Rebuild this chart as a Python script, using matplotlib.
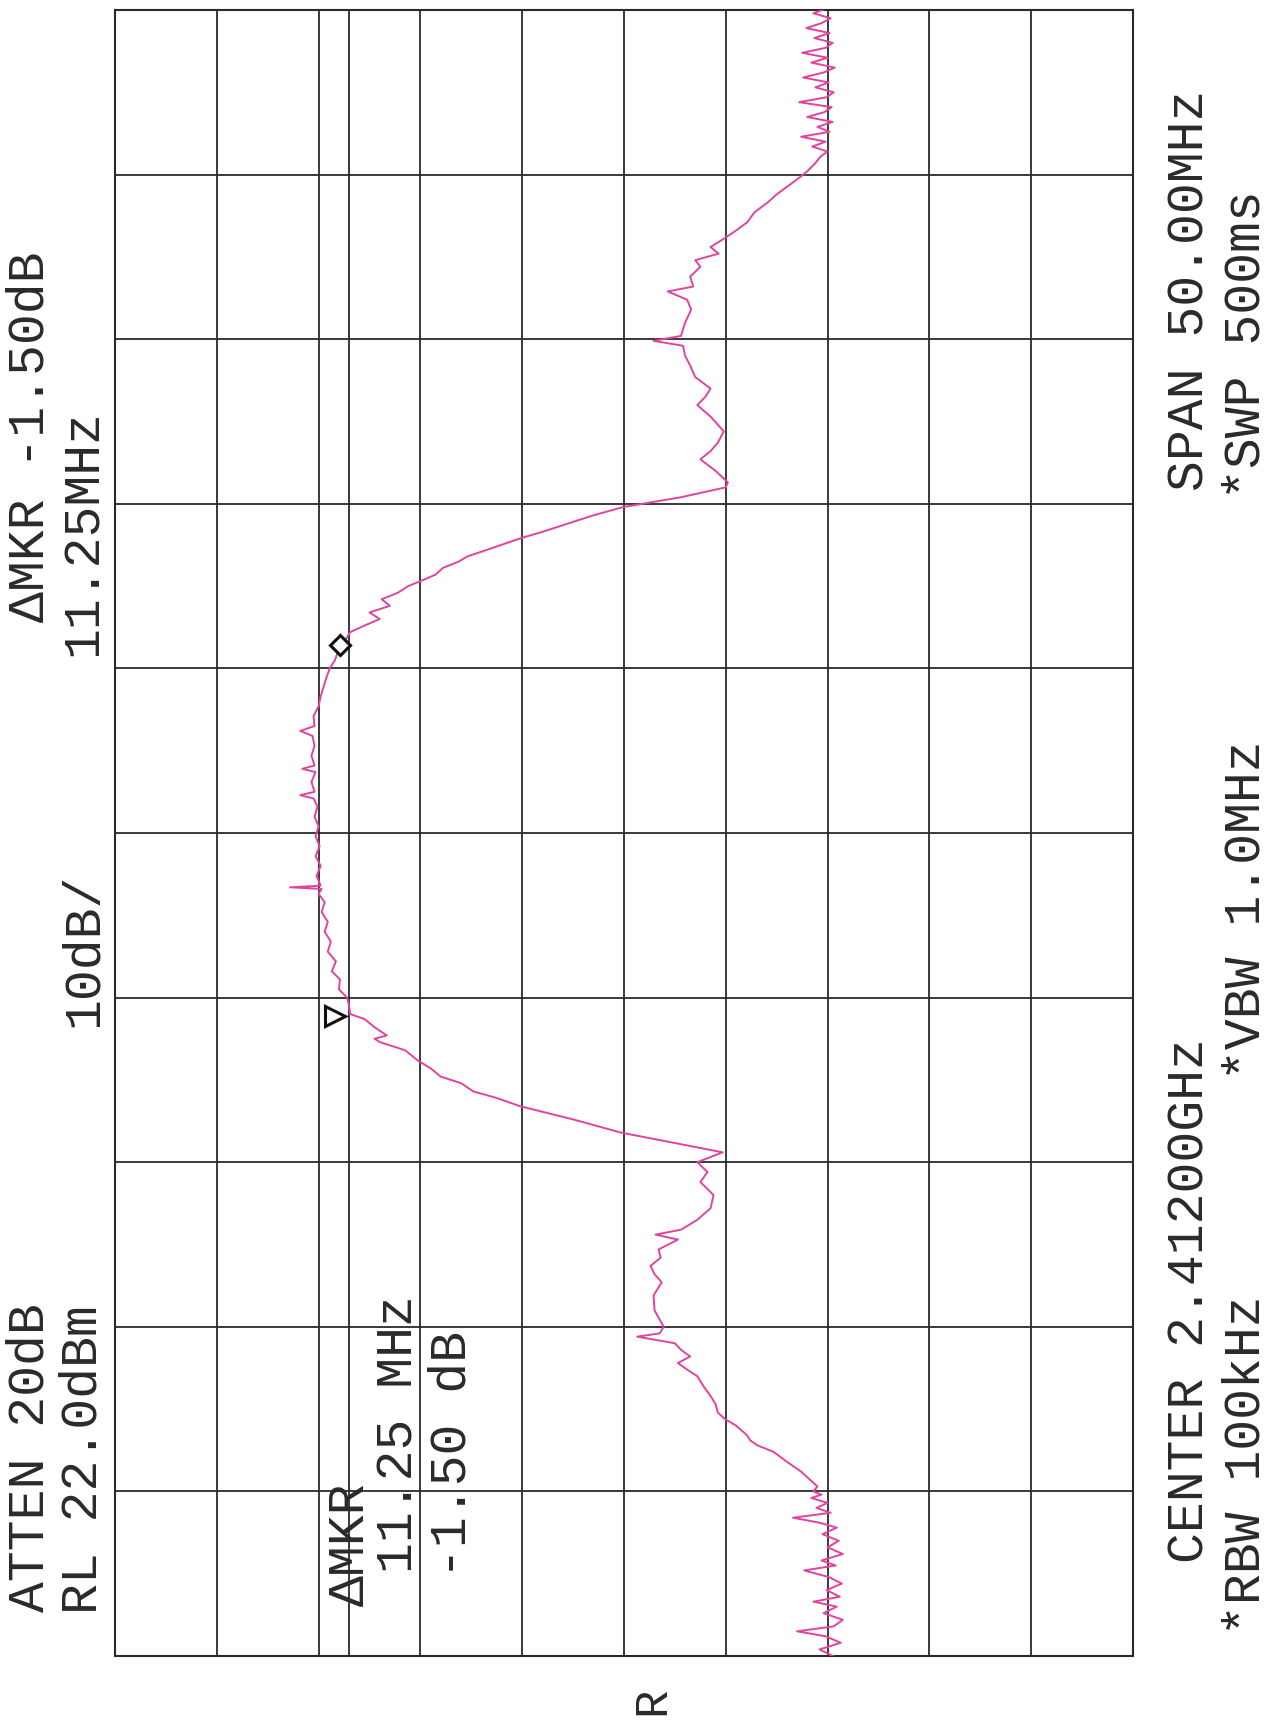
import numpy as np
import matplotlib
matplotlib.use("Agg")
import matplotlib.pyplot as plt
from matplotlib.transforms import offset_copy

# ---------------- data ----------------
center_mhz = 2412.0
span_mhz = 50.0
ref_level_dbm = 22.0
db_per_div = 10.0
display_line_dbm = -1.0

# frequency offset from centre (MHz) and trace level (dBm)
freq_offset_mhz = [
    -25.0, -24.8, -24.6, -24.4, -24.25, -24.1, -23.9, -23.7, -23.5, -23.35,
    -23.2, -23.0, -22.8, -22.6, -22.4, -22.25, -22.1, -21.9, -21.7, -21.5,
    -21.3, -21.1, -20.95, -20.8, -20.65, -20.5, -20.35, -20.2, -20.1, -20.0,
    -19.85, -19.4, -19.1, -18.8, -18.6, -18.45, -18.3, -18.0, -17.8, -17.6,
    -17.35, -17.1, -16.8, -16.5, -16.3, -16.1, -15.9, -15.7, -15.5, -15.3,
    -15.2, -15.0, -14.5, -14.05, -13.65, -13.4, -13.15, -12.9, -12.65, -12.35,
    -12.2, -12.05, -11.75, -11.4, -11.0, -10.6, -10.3, -10.0, -9.7,
    -9.1, -8.7, -8.3, -8.05, -7.85, -7.6, -7.4, -7.15, -6.9, -6.6,
    -6.35, -6.25, -6.15, -5.9, -5.65, -5.5, -5.25, -5.0,
    -4.75, -4.45, -4.2, -3.9, -3.6, -3.3, -3.0, -2.7, -2.4, -2.1,
    -1.85, -1.7, -1.65, -1.6, -1.3, -1.0, -0.7, -0.4, -0.1, 0.2,
    0.5, 0.8, 1.05, 1.15, 1.25, 1.55, 1.85, 1.95, 2.05, 2.35,
    2.65, 2.95, 3.1, 3.25, 3.55, 3.85, 4.15, 4.45, 4.75, 5.0,
    5.25, 5.5, 5.7,
    5.9, 6.1, 6.3, 6.5, 6.7, 6.9, 7.1, 7.3, 7.5, 7.65,
    7.85, 8.05, 8.25, 8.4, 8.65, 8.95, 9.15, 9.35, 9.65, 9.9,
    10.2, 10.5, 10.65,
    11.0, 11.35, 11.6, 11.85, 12.2, 12.65, 13.0, 13.25, 13.5, 13.85,
    14.2, 14.5, 14.8, 14.95, 15.1, 15.5, 15.9, 16.2, 16.45, 16.6,
    16.9, 17.2, 17.4, 17.6, 17.8, 18.05, 18.3, 18.55, 18.85, 19.15,
    19.4, 19.65, 19.9, 20.1, 20.35, 20.55,
    20.7, 20.85, 21.0, 21.15, 21.3, 21.45, 21.6, 21.75, 21.9, 22.05,
    22.2, 22.35, 22.5, 22.65, 22.8, 22.95, 23.1, 23.25, 23.4, 23.55,
    23.7, 23.85, 24.0, 24.15, 24.3, 24.45, 24.6, 24.75, 24.9, 25.0,
]
level_dbm = [
    -48.5, -47.2, -49.3, -47.8, -45.0, -48.6, -49.5, -47.6, -48.9, -46.6,
    -49.2, -47.9, -49.4, -48.1, -45.7, -48.8, -47.4, -49.5, -48.0, -49.1,
    -47.5, -48.9, -47.2, -44.6, -48.3, -46.9, -48.0, -46.4, -47.4, -46.6,
    -47.0, -45.4, -44.0, -42.7, -41.1, -40.4, -40.1, -39.0, -37.9, -37.2,
    -37.0, -36.5, -35.8, -35.2, -34.2, -33.3, -34.5, -33.6, -33.0, -29.3,
    -31.5, -31.9, -31.0, -30.9, -31.7, -31.0, -30.6, -31.6, -31.4, -33.3,
    -31.1, -33.6, -35.2, -36.5, -36.8, -35.5, -36.2, -35.2, -37.7,
    -27.7, -23.0, -17.8, -15.5, -13.2, -12.0, -10.0, -9.0, -7.7, -6.5,
    -4.0, -3.5, -4.7, -3.5, -2.5, -1.1, -1.0, -0.8,
    0.0, -0.1, 0.7, 0.3, 1.1, 0.8, 1.4, 1.1, 1.7, 1.4,
    2.0, 1.7, 4.8, 1.8, 2.2, 1.8, 2.3, 1.9, 2.3, 2.0,
    2.4, 2.1, 2.5, 3.8, 2.4, 2.7, 2.3, 3.6, 2.4, 2.7,
    2.4, 2.6, 3.8, 2.4, 2.5, 2.0, 1.8, 1.5, 1.2, 0.9,
    0.4, 0.1, -0.1,
    -0.7, -1.1, -2.5, -4.0, -3.0, -5.0, -4.2, -5.8, -6.8, -8.0,
    -9.5, -10.2, -11.8, -12.6, -15.0, -17.8, -20.0, -22.0, -25.0, -27.9,
    -33.6, -38.0, -38.2,
    -37.0, -35.5, -36.5, -37.2, -37.8, -36.5, -35.2, -36.0, -36.5, -35.0,
    -34.5, -34.0, -33.8, -30.9, -33.6, -34.0, -34.6, -34.2, -32.3, -34.8,
    -34.5, -35.5, -35.0, -37.3, -36.5, -37.8, -39.0, -40.1, -40.8, -42.1,
    -43.0, -44.1, -45.2, -46.0, -46.8, -47.3,
    -48.0, -46.5, -47.8, -45.4, -48.2, -47.0, -48.5, -46.0, -47.7, -48.4,
    -45.2, -47.9, -48.6, -46.8, -48.1, -45.6, -47.6, -48.7, -46.4, -48.0,
    -45.5, -47.8, -48.5, -46.7, -48.2, -45.9, -47.4, -48.3, -46.6, -47.5,
]

marker_ref_offset_mhz = -5.55
marker_delta_mhz = 11.25
marker_delta_db = -1.50

# annotation texts of the plotter
txt_atten = "ATTEN 20dB"
txt_rl = "RL 22.0dBm"
txt_scale = "10dB/"
txt_mkr1 = "\u0394MKR -1.50dB"
txt_mkr2 = "11.25MHz"
txt_center = "CENTER 2.41200GHz"
txt_rbw = "*RBW 100kHz"
txt_vbw = "*VBW 1.0MHz"
txt_span = "SPAN 50.00MHz"
txt_swp = "*SWP 500ms"
txt_in1 = "\u0394MKR"
txt_in2 = "11.25 MHz"
txt_in3 = "-1.50 dB"
txt_r = "R"

# ---------------- figure ----------------
W, H = 1276, 1724
fig = plt.figure(figsize=(W / 100, H / 100), dpi=100)
fig.patch.set_facecolor("white")

x0, x1 = 115, 1133
y0, y1 = 11, 1657
ax = fig.add_axes([x0 / W, 1 - y1 / H, (x1 - x0) / W, (y1 - y0) / H])

bottom_level = ref_level_dbm - 10 * db_per_div
ax.set_xlim(ref_level_dbm, bottom_level)
ax.set_ylim(-span_mhz / 2, span_mhz / 2)
ax.set_xticks(np.arange(ref_level_dbm, bottom_level - 1, -db_per_div))
ax.set_yticks(np.arange(-span_mhz / 2, span_mhz / 2 + 0.1, span_mhz / 10))
ax.tick_params(length=0, labelleft=False, labelbottom=False)
grid_col = "#2a2a2a"
ax.grid(True, color=grid_col, lw=1.3)
ax.axvline(display_line_dbm, color=grid_col, lw=1.3)
for s in ax.spines.values():
    s.set_color(grid_col)
    s.set_linewidth(1.5)

trace_col = "#e0449e"
ax.plot(level_dbm, freq_offset_mhz, color=trace_col, lw=1.4, zorder=3)

# markers
ref_level = np.interp(marker_ref_offset_mhz, freq_offset_mhz, level_dbm)
d_f = marker_ref_offset_mhz + marker_delta_mhz
d_level = np.interp(d_f, freq_offset_mhz, level_dbm)
tri_tr = offset_copy(ax.transData, fig=fig, x=-20, y=0, units="dots")
ax.plot([ref_level], [marker_ref_offset_mhz], marker=">", ms=14, mfc="white",
        mec="#111111", mew=2.2, transform=tri_tr, zorder=4, ls="none")
ax.plot([d_level], [d_f], marker="D", ms=10, mfc="white", mec="#111111",
        mew=2.2, zorder=4, ls="none")

# ---------------- texts ----------------
fam = ["Liberation Mono", "DejaVu Sans Mono"]
tcol = "#2a2a2a"


def put(s, xc, yc, size=37):
    fig.text(xc / W, 1 - yc / H, s, rotation=90, rotation_mode="anchor",
             ha="center", va="center", fontsize=size, family=fam, color=tcol)


put(txt_atten, 30, 1458)
put(txt_rl, 83, 1460)
put(txt_scale, 83, 950)
put(txt_mkr1, 30, 437)
put(txt_mkr2, 83, 533)
put(txt_center, 1190, 1301)
put(txt_rbw, 1246, 1465)
put(txt_vbw, 1246, 910)
put(txt_span, 1190, 290)
put(txt_swp, 1246, 345)
put(txt_in1, 350, 1544)
put(txt_in2, 399, 1434)
put(txt_in3, 452, 1455)
put(txt_r, 652, 1701, size=34)

fig.savefig("out.png", dpi=100, facecolor="white")
